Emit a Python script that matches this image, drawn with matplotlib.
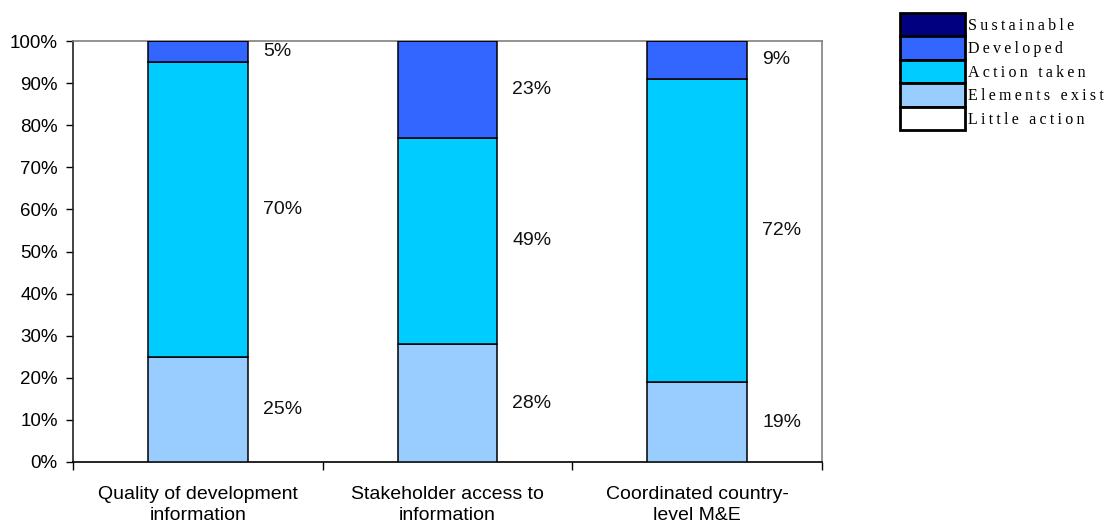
import matplotlib
matplotlib.use("Agg")
import matplotlib.pyplot as plt
from matplotlib.patches import Patch
import numpy as np

categories = ["Quality of development\ninformation",
              "Stakeholder access to\ninformation",
              "Coordinated country-\nlevel M&E"]
series_names = ["Little action", "Elements exist", "Action taken", "Developed", "Sustainable"]
little_action = [0, 0, 0]
elements_exist = [25, 28, 19]
action_taken = [70, 49, 72]
developed = [5, 23, 9]
sustainable = [0, 0, 0]
colors = ["#FFFFFF", "#99CCFF", "#00CCFF", "#3366FF", "#000080"]

series = [little_action, elements_exist, action_taken, developed, sustainable]

fig = plt.figure(figsize=(11.07, 5.22), dpi=100)
ax = fig.add_axes([73 / 1107, 1 - 462 / 522, (822 - 73) / 1107, (462 - 41) / 522])

x = np.arange(len(categories))
bottom = np.zeros(len(categories))
handles = []
for name, vals, col in zip(series_names, series, colors):
    vals = np.array(vals, dtype=float)
    ax.bar(x, vals, 0.4, bottom=bottom, color=col, edgecolor="black", linewidth=1.1, zorder=3)
    for xi, b, v in zip(x, bottom, vals):
        if v > 0:
            ax.text(xi + 0.26, b + v / 2, f"{v:.0f}%", ha="left", va="center",
                    fontsize=14, family="Liberation Sans", color="#111111")
    bottom += vals
    handles.append(Patch(facecolor=col, edgecolor="black", linewidth=2))

ax.set_xlim(-0.5, len(categories) - 0.5)
ax.set_ylim(0, 100)
ax.set_yticks(np.arange(0, 101, 10))
ax.set_yticklabels([f"{v}%" for v in range(0, 101, 10)], family="Liberation Sans", fontsize=13.5)
ax.yaxis.set_tick_params(length=5, width=1, direction="out", pad=6)

ax.set_xticks(np.arange(-0.5, len(categories), 1.0))
ax.set_xticklabels([])
ax.set_xticks(x, minor=True)
ax.set_xticklabels(categories, minor=True, family="Liberation Sans", fontsize=14, linespacing=1.3)
ax.xaxis.set_tick_params(which="major", length=6, width=1, direction="out")
ax.xaxis.set_tick_params(which="minor", length=0, pad=17)

ax.spines["top"].set_color("#808080")
ax.spines["right"].set_color("#808080")
ax.spines["left"].set_color("#222222")
ax.spines["bottom"].set_color("black")
for s in ax.spines.values():
    s.set_linewidth(1.2)

leg = fig.legend(handles[::-1], series_names[::-1], loc="upper left",
                 bbox_to_anchor=(900 / 1107, 1 - 13 / 522), frameon=False,
                 labelspacing=0.0, handlelength=4.05, handleheight=1.88,
                 handletextpad=0.2, borderpad=0, borderaxespad=0,
                 prop={"family": "Liberation Serif", "size": 11.5})
for t in leg.get_texts():
    t.set_text("\u2009".join(t.get_text()))

fig.savefig("out.png", dpi=100)
